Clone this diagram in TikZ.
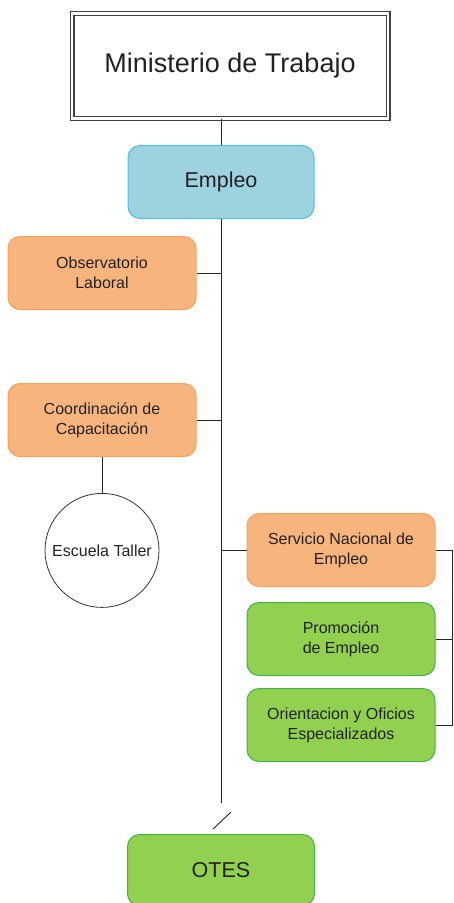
\documentclass[tikz,border=0pt]{standalone}
\usepackage{fontspec}
\setmainfont{Liberation Sans}
\usetikzlibrary{positioning}
\definecolor{blueFill}{HTML}{9DD2DF}
\definecolor{blueLine}{HTML}{4DBDEB}
\definecolor{orangeFill}{HTML}{F7B47D}
\definecolor{orangeLine}{HTML}{F4A25C}
\definecolor{greenFill}{HTML}{92D050}
\definecolor{greenLine}{HTML}{3DB54A}
\definecolor{inkText}{HTML}{222222}

\begin{document}
\begin{tikzpicture}[x=1pt, y=-1pt,
    unit/.style={draw, rounded corners=12pt, line width=1pt, minimum width=188pt, minimum height=73pt, align=center, text=inkText, font=\fontsize{16}{20}\selectfont},
    orangebox/.style={unit, fill=orangeFill, draw=orangeLine},
    greenbox/.style={unit, fill=greenFill, draw=greenLine},
    link/.style={line width=0.9pt, draw=black!85}
]
\useasboundingbox (0,0) rectangle (453,903);

\node[draw=black!75, double, double distance=2.4pt, line width=1.3pt, minimum width=316pt, minimum height=105pt, font=\fontsize{27}{31}\selectfont, text=inkText] (ministerio) at (230,66) {Ministerio de Trabajo};
\node[unit, fill=blueFill, draw=blueLine, minimum width=186pt, font=\fontsize{21.5}{26}\selectfont] (empleo) at (221,182) {Empleo};

\node[orangebox] (obs) at (102,273) {Observatorio\\Laboral};
\node[orangebox, below=73pt of obs] (coord) {Coordinación de\\Capacitación};
\node[draw=black!80, circle, line width=0.8pt, minimum size=114pt, text=inkText, font=\fontsize{16}{20}\selectfont, below=36pt of coord] (taller) {Escuela Taller};

\node[orangebox] (serv) at (341,550) {Servicio Nacional de\\Empleo};
\node[greenbox, below=15pt of serv] (promo) {Promoción\\de Empleo};
\node[greenbox, below=12pt of promo] (orient) {Orientacion y Oficios\\Especializados};

\node[greenbox, minimum width=187pt, minimum height=71pt, font=\fontsize{21.5}{26}\selectfont] (otes) at (221,870) {OTES};

\coordinate (trunkend) at (221,803);
\coordinate (rail) at (452,0);
\coordinate (cutA) at (213,829);
\coordinate (cutB) at (231,812);

\draw[link] (empleo.north) -- (empleo.north |- ministerio.south);
\draw[link] (empleo.south) -- (trunkend);
\draw[link] (obs.east) -- (obs.east -| trunkend);
\draw[link] (coord.east) -- (coord.east -| trunkend);
\draw[link] (serv.west) -- (serv.west -| trunkend);
\draw[link] (coord.south) -- (taller.north);
\draw[link] (serv.east) -- (serv.east -| rail) -- (orient.east -| rail) -- (orient.east);
\draw[link] (promo.east) -- (promo.east -| rail);
\draw[link] (cutA) -- (cutB);
\end{tikzpicture}
\end{document}
